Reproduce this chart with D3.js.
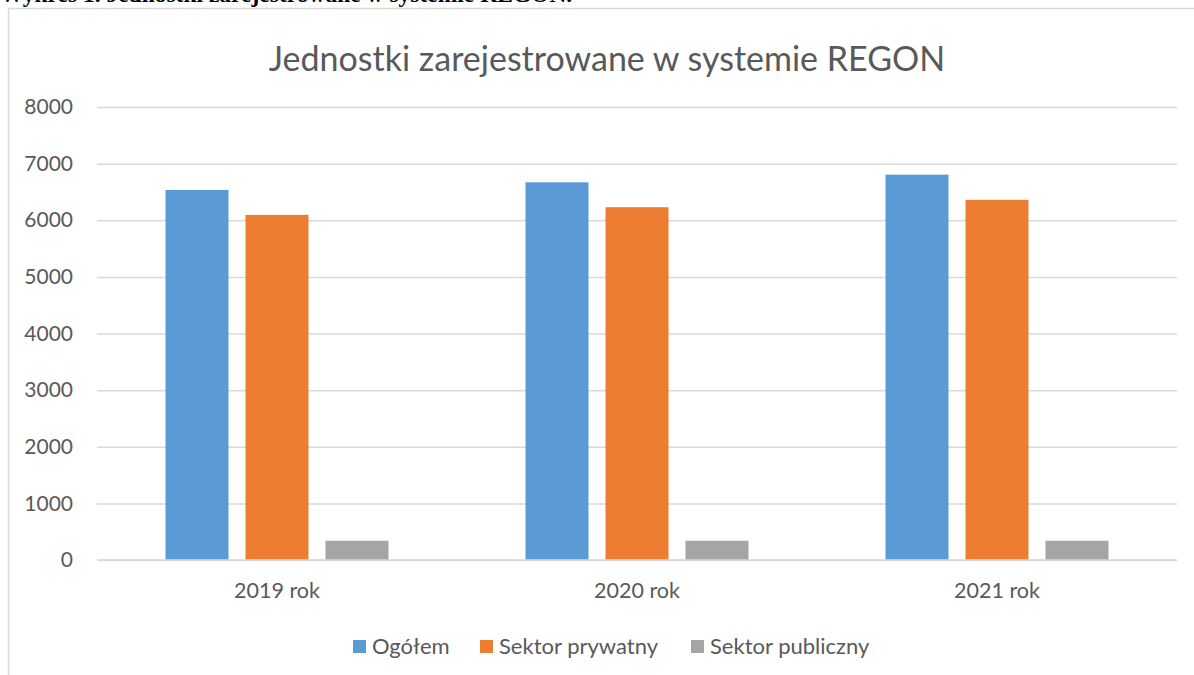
<!DOCTYPE html>
<html>
<head>
<meta charset="utf-8">
<script src="https://cdn.jsdelivr.net/npm/d3@7"></script>
<style>
  body { margin: 0; background: #fff; }
  svg { display: block; }
  .lbl { font-family: Lato, "Open Sans", sans-serif; fill: #595959; }
</style>
</head>
<body>
<div id="chart"></div>
<script>
// data
var years = ["2019 rok", "2020 rok", "2021 rok"];
var seriesNames = ["Ogółem", "Sektor prywatny", "Sektor publiczny"];
var ogolem = [6535, 6670, 6805];
var prywatny = [6095, 6230, 6360];
var publiczny = [340, 340, 340];
var yTicks = [0, 1000, 2000, 3000, 4000, 5000, 6000, 7000, 8000];
var colors = ["#5b9bd5", "#ed7d31", "#a5a5a5"];

drawChart();

function drawChart() {
  var fullWidth = 1194, fullHeight = 675;
  var svg = d3.select("#chart").append("svg")
    .attr("width", fullWidth)
    .attr("height", fullHeight);

  // caption of the document, cut off at the top
  svg.append("text")
    .attr("x", 0)
    .attr("y", 2)
    .style("font-family", "'Liberation Serif', serif")
    .style("font-weight", "bold")
    .style("font-size", "23.5px")
    .attr("fill", "#000")
    .text("Wykres 1. Jednostki zarejestrowane w systemie REGON.");

  // chart frame (runs past right and bottom edge)
  svg.append("rect")
    .attr("x", 8.5).attr("y", 8.5)
    .attr("width", 1300).attr("height", 800)
    .attr("fill", "#fff")
    .attr("stroke", "#d9d9d9")
    .attr("stroke-width", 1.5);

  svg.append("text")
    .attr("class", "lbl")
    .attr("x", 607)
    .attr("y", 71)
    .attr("text-anchor", "middle")
    .style("font-size", "34px")
    .text("Jednostki zarejestrowane w systemie REGON");

  var plotLeft = 97, plotRight = 1177, plotTop = 107, plotBottom = 560;

  var y = d3.scaleLinear().domain([0, 8000]).range([plotBottom, plotTop]);
  var x0 = d3.scaleBand().domain(years).range([plotLeft, plotRight]);
  var x1 = d3.scaleBand().domain(seriesNames).range([0, x0.bandwidth()])
    .paddingInner(0.2125).paddingOuter(0.856);

  // gridlines + tick labels
  var yAxis = d3.axisLeft(y).tickValues(yTicks).tickFormat(d3.format("d"))
    .tickSize(-(plotRight - plotLeft)).tickPadding(24);
  var ga = svg.append("g").attr("transform", "translate(" + plotLeft + ",0)").call(yAxis);
  ga.select(".domain").remove();
  ga.selectAll(".tick line").attr("stroke", "#d9d9d9").attr("stroke-width", 1.5);
  ga.selectAll(".tick text")
    .attr("class", "lbl")
    .style("font-size", "21px")
    .attr("fill", "#595959");

  var table = years.map(function(yr, i) {
    return { year: yr, values: [ogolem[i], prywatny[i], publiczny[i]] };
  });

  var groups = svg.append("g").selectAll("g")
    .data(table)
    .enter().append("g")
    .attr("transform", function(d) { return "translate(" + x0(d.year) + ",0)"; });

  groups.selectAll("rect")
    .data(function(d) { return d.values.map(function(v, j) { return { name: seriesNames[j], value: v, i: j }; }); })
    .enter().append("rect")
    .attr("x", function(d) { return x1(d.name); })
    .attr("y", function(d) { return y(d.value); })
    .attr("width", x1.bandwidth())
    .attr("height", function(d) { return plotBottom - y(d.value); })
    .attr("fill", function(d) { return colors[d.i]; });

  // x axis line drawn over the bars
  svg.append("line")
    .attr("x1", plotLeft).attr("x2", plotRight)
    .attr("y1", plotBottom).attr("y2", plotBottom)
    .attr("stroke", "#d9d9d9").attr("stroke-width", 1.5);

  svg.append("g").selectAll("text")
    .data(years)
    .enter().append("text")
    .attr("class", "lbl")
    .attr("x", function(d) { return x0(d) + x0.bandwidth() / 2; })
    .attr("y", 598)
    .attr("text-anchor", "middle")
    .style("font-size", "21.5px")
    .text(function(d) { return d; });

  // legend
  var legendX = [353, 480, 691];
  var leg = svg.append("g").selectAll("g")
    .data(seriesNames)
    .enter().append("g")
    .attr("transform", function(d, i) { return "translate(" + legendX[i] + ",640)"; });
  leg.append("rect")
    .attr("width", 13).attr("height", 13)
    .attr("fill", function(d, i) { return colors[i]; });
  leg.append("text")
    .attr("class", "lbl")
    .attr("x", 19)
    .attr("y", 14)
    .style("font-size", "22px")
    .text(function(d) { return d; });
}
</script>
</body>
</html>
